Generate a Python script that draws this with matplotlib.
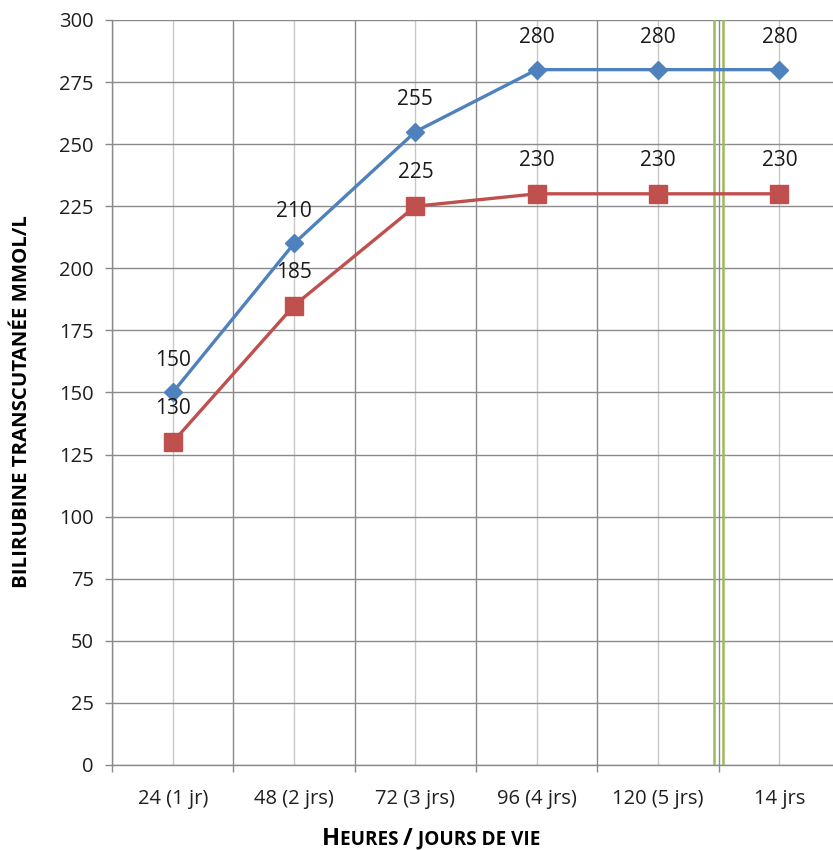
import matplotlib.pyplot as plt
import numpy as np

plt.rcParams['font.family'] = ['Open Sans', 'DejaVu Sans']

categories = ['24 (1 jr)', '48 (2 jrs)', '72 (3 jrs)', '96 (4 jrs)', '120 (5 jrs)', '14 jrs']
haut = [150, 210, 255, 280, 280, 280]
bas = [130, 185, 225, 230, 230, 230]
yticks = np.arange(0, 301, 25)

fig = plt.figure(figsize=(8.33, 8.5), dpi=100)
ax = fig.add_axes([0.1345, 0.1, 0.874, 0.8765])

x = np.arange(len(categories))
ax.set_xlim(-0.5, len(categories) - 0.5)
ax.set_ylim(0, 300)

# grille : lignes pleines entre categories, plus claires au centre
ax.set_yticks(yticks)
ax.set_xticks(np.arange(-0.5, len(categories), 1.0))
ax.set_xticklabels([])
ax.set_xticks(x, minor=True)
ax.set_xticklabels(categories, minor=True)
ax.grid(axis='y', color='#8a8a8a', lw=1.0)
ax.grid(axis='x', which='major', color='#8a8a8a', lw=1.0)
ax.grid(axis='x', which='minor', color='#c8c8c8', lw=1.0)
ax.set_axisbelow(True)

ax.tick_params(axis='y', length=5, width=1, color='#8a8a8a', labelsize=14.5,
               pad=8, labelcolor='#1f1f1f')
ax.tick_params(axis='x', which='major', length=5, width=1, color='#8a8a8a')
ax.tick_params(axis='x', which='minor', length=0, labelsize=14.5, pad=17,
               labelcolor='#1f1f1f')

for s in ['top', 'right']:
    ax.spines[s].set_visible(False)
for s in ['left', 'bottom']:
    ax.spines[s].set_color('#8a8a8a')
    ax.spines[s].set_linewidth(1.0)

# rupture d'echelle avant 14 jrs
for dx in (-0.036, 0.036):
    ax.axvline(4.5 + dx, color='#9bbb59', lw=1.8, zorder=2)

ax.plot(x, haut, color='#4f81bd', lw=2.4, marker='D', ms=9.5, zorder=3)
ax.plot(x, bas, color='#c0504d', lw=2.4, marker='s', ms=12.5, zorder=3)

for xi, v in zip(x, haut):
    ax.annotate(str(v), (xi, v), xytext=(0, 19), textcoords='offset points',
                ha='center', va='baseline', fontsize=15, color='#1a1a1a')
for xi, v in zip(x, bas):
    ax.annotate(str(v), (xi, v), xytext=(0, 20), textcoords='offset points',
                ha='center', va='baseline', fontsize=15, color='#1a1a1a')

fig.text(0.027, 0.527, 'BILIRUBINE TRANSCUTANÉE MMOL/L', rotation=90,
         ha='center', va='center', fontsize=14.7, fontweight='bold')

# titre de l'axe x en petites capitales, tous sur la meme ligne de base
y0 = 0.006
pieces = [('H', 17), ('EURES ', 13.6), ('/', 17), (' JOURS DE VIE', 13.6)]
prev = fig.text(0.386, y0, pieces[0][0], fontsize=pieces[0][1],
                fontweight='bold', va='baseline')
for txt, fs in pieces[1:]:
    prev = ax.annotate(txt, xy=(1, y0), xycoords=(prev, 'figure fraction'),
                       fontsize=fs, fontweight='bold', va='baseline',
                       annotation_clip=False)

fig.savefig('out.png', dpi=100)
